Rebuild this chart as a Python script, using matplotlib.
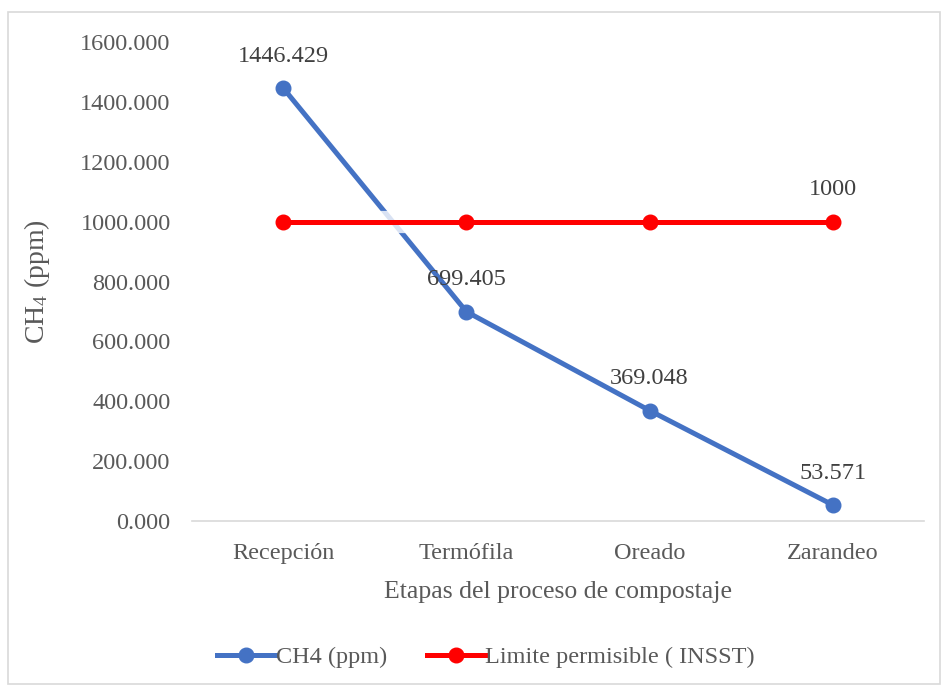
import matplotlib
matplotlib.use("Agg")
import matplotlib.pyplot as plt
from matplotlib.patches import Rectangle
from matplotlib.ticker import FormatStrFormatter

plt.rcParams["font.family"] = ["Liberation Serif", "DejaVu Serif"]
plt.rcParams["mathtext.default"] = "regular"

stages = ["Recepción", "Termófila", "Oreado", "Zarandeo"]
ch4_ppm = [1446.429, 699.405, 369.048, 53.571]
limit_insst = [1000, 1000, 1000, 1000]
ch4_labels = ["1446.429", "699.405", "369.048", "53.571"]

BLUE = "#4472C4"
RED = "#FF0000"
TXT = "#404040"
FS = 17.5

fig = plt.figure(figsize=(9.42, 6.86), dpi=100)
fig.patches.append(Rectangle((8 / 942, 2 / 686), 932 / 942, 672 / 686, transform=fig.transFigure,
                             fill=False, edgecolor="#D9D9D9", linewidth=1.2))
ax = fig.add_axes([0.2033, 0.2405, 0.7781, 0.6983])

x = list(range(len(stages)))
ax.plot(x, ch4_ppm, color=BLUE, lw=3.6, marker="o", ms=10.5, label="CH4 (ppm)", zorder=3)
# soft white glow under the limit line
ax.plot(x, limit_insst, color="white", lw=16, alpha=0.8, solid_capstyle="round", zorder=3.5)
ax.plot(x, limit_insst, color=RED, lw=3.6, marker="o", ms=10.5, label="Limite permisible ( INSST)", zorder=4)

for xi, yi, lab in zip(x, ch4_ppm, ch4_labels):
    ax.annotate(lab, (xi, yi), xytext=(0, 23), textcoords="offset points", ha="center", va="center",
                fontsize=FS, color=TXT, zorder=5)
ax.annotate("1000", (x[-1], limit_insst[-1]), xytext=(0, 23), textcoords="offset points",
            ha="center", va="center", fontsize=FS, color=TXT, zorder=5)

ax.set_xlim(-0.5, len(stages) - 0.5)
ax.set_ylim(0, 1600)
ax.set_yticks(range(0, 1601, 200))
ax.yaxis.set_major_formatter(FormatStrFormatter("%.3f"))
ax.set_xticks(x)
ax.set_xticklabels(stages)
ax.tick_params(axis="both", length=0, labelsize=FS, labelcolor="#595959")
ax.tick_params(axis="y", pad=15)
ax.tick_params(axis="x", pad=16)
for s in ["top", "right", "left"]:
    ax.spines[s].set_visible(False)
ax.spines["bottom"].set_color("#D9D9D9")
ax.spines["bottom"].set_linewidth(1.2)

ax.set_xlabel("Etapas del proceso de compostaje", fontsize=18.5, color="#595959", labelpad=12)
ax.set_ylabel("CH$_{4}$ (ppm)", fontsize=20, color="#595959", labelpad=20)

fig.legend(loc="center", bbox_to_anchor=(0.516, 0.042), ncol=2, frameon=False, fontsize=FS,
           handlelength=2.4, handletextpad=0.0, columnspacing=1.65, labelcolor="#595959")

fig.savefig("out.png", dpi=100)
